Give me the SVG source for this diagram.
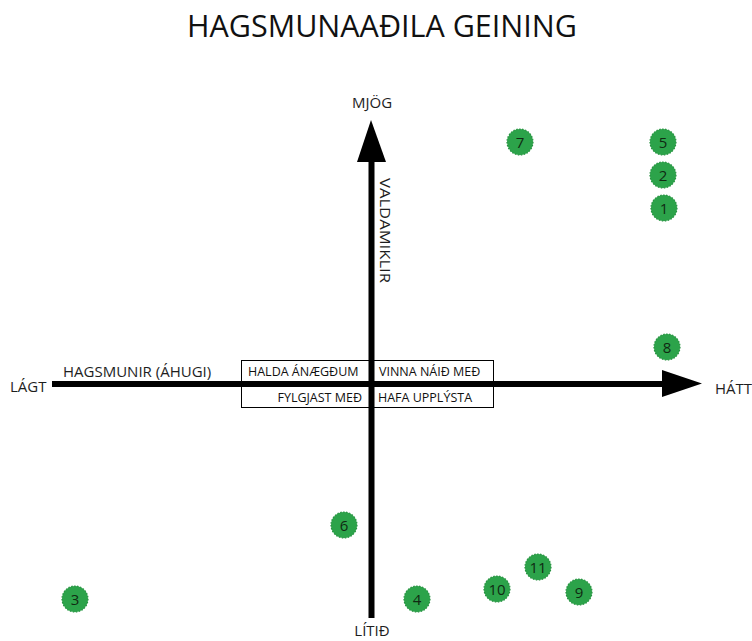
<svg xmlns="http://www.w3.org/2000/svg" width="752" height="641" viewBox="0 0 752 641">
<style>
  text { font-family: "Open Sans", "Liberation Sans", sans-serif; fill: #1e1e1e; }
  .title { font-size: 30.5px; fill: #111; }
  .lbl { font-size: 15px; }
  .q { font-size: 12.5px; fill: #111; }
  .dot circle { fill: #2ca34a; stroke: #25913f; stroke-width: 1.2; stroke-dasharray: 1.5 1.5; }
  .dot text { font-size: 15px; fill: #102a12; text-anchor: middle; }
  .axis { stroke: #000; stroke-width: 6; fill: none; }
  .box { fill: #fff; stroke: #000; stroke-width: 1; }
</style>
<rect width="752" height="641" fill="#fff"/>
<text class="title" x="382" y="37" text-anchor="middle">HAGSMUNAAÐILA GEINING</text>

<g id="quadrant-boxes">
  <rect class="box" x="241.5" y="360.5" width="252" height="47"/>
  <text class="q" x="248" y="376">HALDA ÁNÆGÐUM</text>
  <text class="q" x="379" y="376">VINNA NÁIÐ MEÐ</text>
  <text class="q" x="362" y="402" text-anchor="end">FYLGJAST MEÐ</text>
  <text class="q" x="378" y="402">HAFA UPPLÝSTA</text>
</g>

<g id="connectors">
  <line class="axis" x1="52" y1="384" x2="664" y2="384"/>
  <polygon points="662,370 702,383.5 662,397" fill="#000"/>
  <line class="axis" x1="371.5" y1="618" x2="371.5" y2="160"/>
  <polygon points="357,162 371,120 386,162" fill="#000"/>
</g>

<g id="axis-labels">
  <text class="lbl" x="372" y="108" text-anchor="middle" font-size="14">MJÖG</text>
  <text class="lbl" x="372" y="636" text-anchor="middle" font-size="14">LÍTIÐ</text>
  <text class="lbl" x="10" y="392">LÁGT</text>
  <text class="lbl" x="715" y="394">HÁTT</text>
  <text class="lbl" x="63" y="377">HAGSMUNIR (ÁHUGI)</text>
  <text class="lbl" transform="translate(380,178) rotate(90)" font-family="Liberation Sans, sans-serif" font-size="14" textLength="105" lengthAdjust="spacingAndGlyphs">VALDAMIKLIR</text>
</g>

<g id="node-7" class="dot"><circle cx="520" cy="142" r="13"/><text x="520" y="147.5">7</text></g>
<g id="node-5" class="dot"><circle cx="663" cy="142" r="13"/><text x="663" y="147.5">5</text></g>
<g id="node-2" class="dot"><circle cx="663" cy="175" r="13"/><text x="663" y="180.5">2</text></g>
<g id="node-1" class="dot"><circle cx="664" cy="208" r="13"/><text x="664" y="213.5">1</text></g>
<g id="node-8" class="dot"><circle cx="667" cy="347" r="13"/><text x="667" y="352.5">8</text></g>
<g id="node-6" class="dot"><circle cx="344" cy="525" r="13"/><text x="344" y="530.5">6</text></g>
<g id="node-4" class="dot"><circle cx="417" cy="599" r="13"/><text x="417" y="604.5">4</text></g>
<g id="node-10" class="dot"><circle cx="497" cy="589" r="13"/><text x="497" y="594.5">10</text></g>
<g id="node-11" class="dot"><circle cx="538" cy="567" r="13"/><text x="538" y="572.5">11</text></g>
<g id="node-9" class="dot"><circle cx="579" cy="592" r="13"/><text x="579" y="597.5">9</text></g>
<g id="node-3" class="dot"><circle cx="75" cy="599" r="13"/><text x="75" y="604.5">3</text></g>
</svg>
